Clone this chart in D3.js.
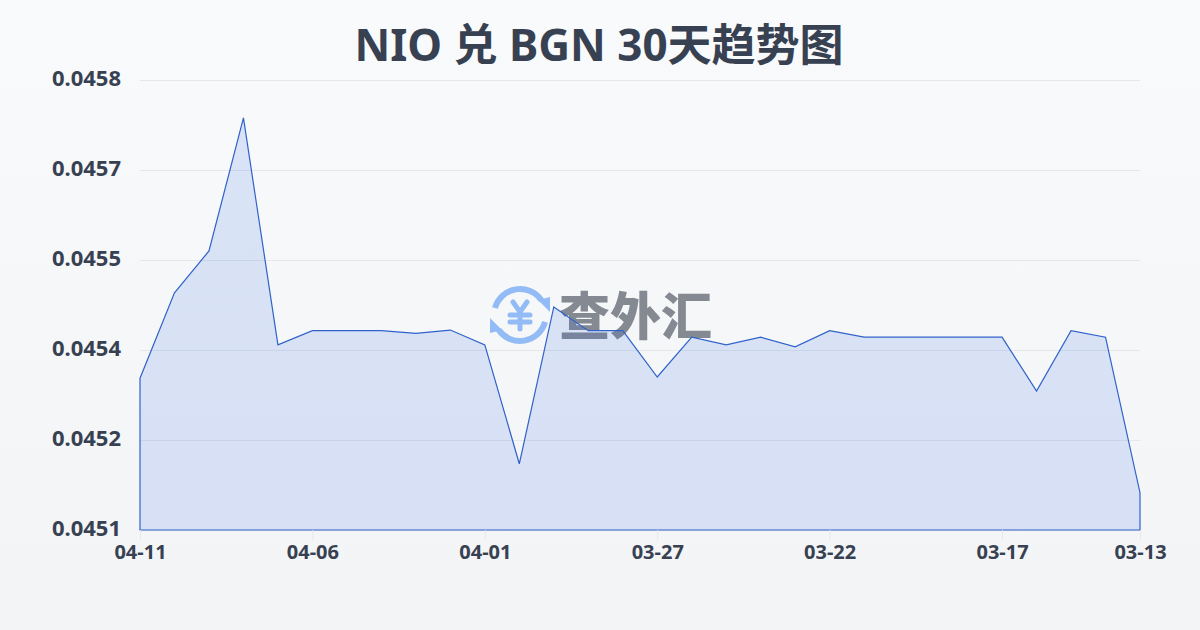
<!DOCTYPE html>
<html>
<head>
<meta charset="utf-8">
<script src="https://cdn.jsdelivr.net/npm/d3@7"></script>
<style>
  html, body { margin: 0; padding: 0; }
  svg { display: block; }
</style>
</head>
<body>
<div id="container"></div>
<script>
const width = 1200,
  height = 630,
  margin = { top: 80, bottom: 100, left: 140, right: 60 };

const sans = "'Noto Sans', 'Noto Sans CJK SC', sans-serif";

/* DATA */
const titleText = "NIO 兑 BGN 30天趋势图";
const dates = ["04-11","04-10","04-09","04-08","04-07","04-06","04-05","04-04","04-03","04-02",
  "04-01","03-31","03-30","03-29","03-28","03-27","03-26","03-25","03-24","03-23",
  "03-22","03-21","03-20","03-19","03-18","03-17","03-16","03-15","03-14","03-13"];
const rates = [0.045336,0.045469,0.045534,0.045741,0.045388,0.04541,0.04541,0.04541,0.045406,0.045411,
  0.045388,0.045203,0.045447,0.04541,0.04541,0.045338,0.0454,0.045388,0.0454,0.045385,
  0.04541,0.0454,0.0454,0.0454,0.0454,0.0454,0.045316,0.04541,0.0454,0.045158];
const xTickLabels = ["04-11","04-06","04-01","03-27","03-22","03-17","03-13"];
const yTicks = [0.0451,0.04524,0.04538,0.04552,0.04566,0.0458];

const svg = d3.select("#container")
  .append("svg")
  .attr("width", width)
  .attr("height", height)
  .attr("font-family", sans);

const defs = svg.append("defs");
const bg = defs.append("linearGradient").attr("id", "bg")
  .attr("x1", 0).attr("y1", 0).attr("x2", 0).attr("y2", 1);
bg.append("stop").attr("offset", "0%").attr("stop-color", "#f8fafc");
bg.append("stop").attr("offset", "100%").attr("stop-color", "#f3f4f6");

svg.append("rect")
  .attr("width", width)
  .attr("height", height)
  .attr("fill", "url(#bg)");

/* SCALES */
const xScale = d3.scalePoint()
  .domain(dates)
  .range([margin.left, width - margin.right]);

const yScale = d3.scaleLinear()
  .domain([0.0451, 0.0458])
  .range([height - margin.bottom, margin.top]);

// grid
svg.append("g")
  .attr("transform", "translate(0, 0.5)")
  .selectAll("line")
  .data(yTicks)
  .join("line")
  .attr("x1", margin.left)
  .attr("x2", width - margin.right)
  .attr("y1", d => yScale(d))
  .attr("y2", d => yScale(d))
  .attr("stroke", "#e5e7eb")
  .attr("stroke-width", 1);

/* WATERMARK */
const mark = svg.append("g").attr("transform", "translate(520, 315)");
const logoBlue = "#93bbf5";
const arc = d3.arc().innerRadius(23).outerRadius(29);
mark.append("path")
  .attr("d", arc({ startAngle: -1.3, endAngle: 0.97 }))
  .attr("fill", logoBlue);
mark.append("path")
  .attr("d", arc({ startAngle: 1.84, endAngle: 4.11 }))
  .attr("fill", logoBlue);
mark.append("path").attr("d", "M18,-15 L30,-18 L30,-3 Z").attr("fill", logoBlue);
mark.append("path").attr("d", "M-18,15 L-30,18 L-30,3 Z").attr("fill", logoBlue);
// yen sign
mark.append("path")
  .attr("d", "M-7,-13 L0,-3 L7,-13 M0,-3 L0,14 M-10,0 L10,0 M-10,7 L10,7")
  .attr("fill", "none")
  .attr("stroke", logoBlue)
  .attr("stroke-width", 5)
  .attr("stroke-linecap", "round");
svg.append("text")
  .attr("x", 559)
  .attr("y", 335)
  .attr("font-size", 51)
  .attr("font-weight", 900)
  .attr("font-family", "'Noto Sans CJK SC', sans-serif")
  .attr("fill", "#858a92")
  .text("查外汇");

/* AREA */
const area = d3.area()
  .x((d, i) => xScale(dates[i]))
  .y0(yScale(0.0451))
  .y1(d => yScale(d));

svg.append("path")
  .datum(rates)
  .attr("d", area)
  .attr("fill", "#2e64e0")
  .attr("fill-opacity", 0.14)
  .attr("stroke", "#2f62c9")
  .attr("stroke-width", 1.2);

/* AXES */
const xAxis = d3.axisBottom(xScale)
  .tickValues(xTickLabels)
  .tickSize(10)
  .tickSizeOuter(0);
const xG = svg.append("g")
  .attr("transform", `translate(0, ${height - margin.bottom})`)
  .call(xAxis)
  .attr("font-family", sans);
xG.select(".domain").remove();
xG.selectAll("line").attr("stroke", "#e5e7eb");
xG.selectAll("text")
  .attr("y", 15)
  .attr("dy", "0.71em")
  .attr("font-size", 20)
  .attr("font-weight", 700)
  .attr("fill", "#374151");

const yAxis = d3.axisLeft(yScale)
  .tickValues(yTicks)
  .tickSize(0)
  .tickPadding(19)
  .tickFormat(d3.format(".4f"));
const yG = svg.append("g")
  .attr("transform", `translate(${margin.left}, -2)`)
  .call(yAxis)
  .attr("font-family", sans);
yG.select(".domain").remove();
yG.selectAll("text")
  .attr("font-size", 22)
  .attr("font-weight", 700)
  .attr("fill", "#374151");

/* TITLE */
svg.append("text")
  .attr("x", width / 2 - 1)
  .attr("y", 61)
  .attr("text-anchor", "middle")
  .attr("font-size", 44)
  .attr("font-weight", 700)
  .attr("fill", "#374151")
  .text(titleText);
</script>
</body>
</html>
